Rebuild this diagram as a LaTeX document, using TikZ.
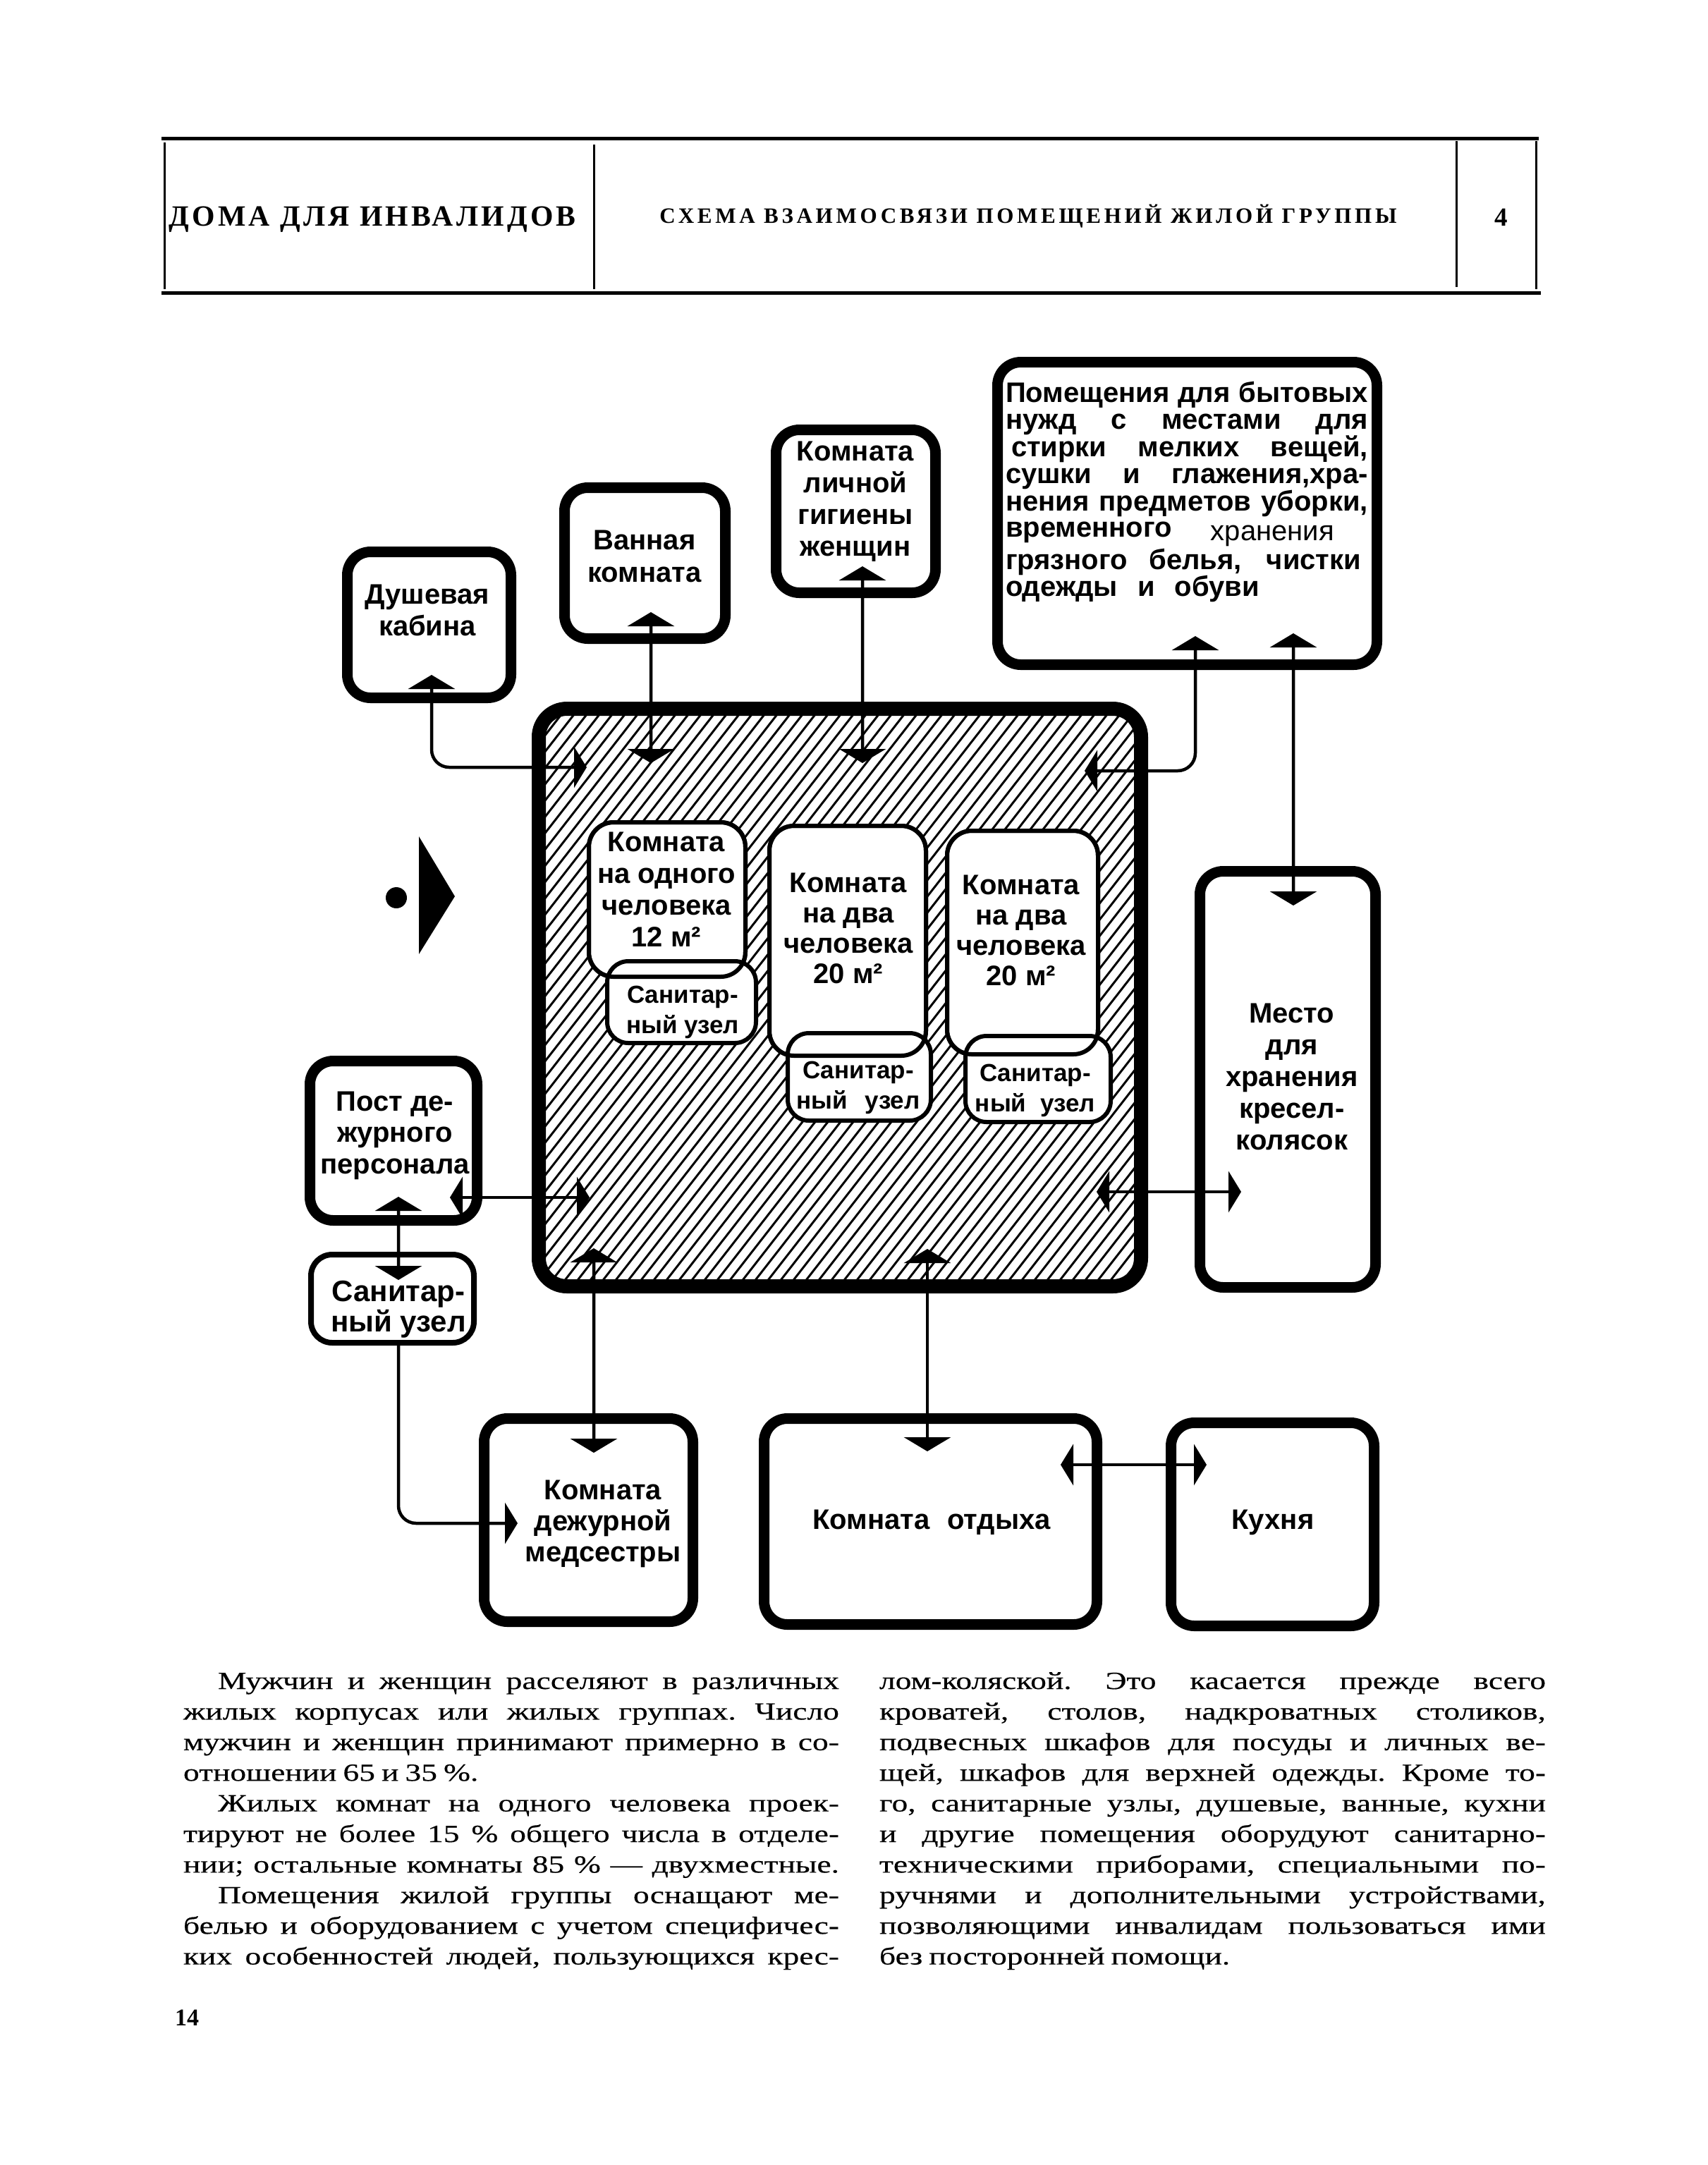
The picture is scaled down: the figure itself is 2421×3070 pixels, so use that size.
\documentclass[tikz,border=0pt]{standalone}
\usepackage{graphicx}
\usepackage{fontspec}
\setmainfont{Liberation Serif}
\newfontfamily\lbl{Liberation Sans}
\newfontfamily\bodyfont{Liberation Serif}[FakeStretch=1.3, WordSpace=0.8, FakeBold=0.4]
\newfontfamily\headfont{Liberation Serif}[LetterSpace=10]
\usetikzlibrary{arrows.meta,calc}

\newcommand\lt[3]{\parbox[t]{50mm}{\centering\lbl\bfseries\fontsize{#1}{#2}\selectfont #3}}
\newcommand\jl[2][51.4mm]{\makebox[#1][s]{#2}}
\newcommand\bl[2][93mm]{\makebox[#1][s]{#2}\par}

\tikzset{
  every node/.style={inner sep=0pt, outer sep=0pt},
  bigbox/.style={draw, line width=1.5mm, rounded corners=3.3mm},
  mainline/.style={line width=2mm, rounded corners=4mm},
  roombox/.style={draw, fill=white, line width=0.6mm, rounded corners=3.5mm},
  roomline/.style={line width=0.6mm, rounded corners=3.5mm},
  sanbox/.style={draw, fill=white, line width=0.6mm, rounded corners=3mm},
  conn/.style={line width=0.45mm},
  hatch/.style={line width=0.3mm},
  lab/.style={anchor=base},
  tipv/.tip={Triangle[width=6.6mm,length=2mm]},
  tiph/.tip={Triangle[width=5.8mm,length=1.8mm]},
}

\begin{document}
\begin{tikzpicture}[x=0.1mm, y=-0.1mm]
\useasboundingbox (0,0) rectangle (2421,3070);

% ---------- header ----------
\draw[line width=0.5mm] (229,196) -- (2182,196);
\draw[line width=0.5mm] (229,415) -- (2185,415);
\draw[line width=0.3mm] (233,202) -- (233,410);
\draw[line width=0.3mm] (842,205) -- (842,410);
\draw[line width=0.3mm] (2065,200) -- (2065,407);
\draw[line width=0.3mm] (2178,200) -- (2178,410);
\node[anchor=base] (h1) at (528,320) {\resizebox{57.7mm}{!}{\headfont\bfseries ДОМА ДЛЯ ИНВАЛИДОВ}};
\node[anchor=base] (h2) at (1458,316) {\resizebox{104.5mm}{!}{\headfont\bfseries\addfontfeature{LetterSpace=15}СХЕМА ВЗАИМОСВЯЗИ ПОМЕЩЕНИЙ ЖИЛОЙ ГРУППЫ}};
\node[anchor=base] (h3) at (2129,320) {\fontsize{3.7mm}{4mm}\selectfont\bfseries 4};

% ---------- margin marker ----------
\fill (562,1273) circle (1.5mm);
\fill (594,1186) -- (645,1271) -- (594,1353) -- cycle;

% ---------- main hatched box ----------
\node[minimum width=85.4mm, minimum height=81.9mm] (main) at (1191,1414.5) {};
\begin{scope}
  \clip[rounded corners=4mm] (main.south west) rectangle (main.north east);
  \foreach \x in {90,108,...,1640} \draw[hatch] (\x,1850) -- ++(670,-860);
\end{scope}
\draw[mainline] (main.south west) rectangle (main.north east);

% rooms inside
\node[roombox, minimum width=22.2mm, minimum height=21.9mm] (r1) at (946,1275.5) {};
\node[sanbox, minimum width=21.1mm, minimum height=11.6mm] (s1) at (966.5,1421) {};
\draw[roomline] (r1.south west) rectangle (r1.north east);
\node[roombox, minimum width=22.2mm, minimum height=32.6mm] (r2) at (1202,1334) {};
\node[sanbox, minimum width=20.3mm, minimum height=12.4mm] (s2) at (1218.5,1527) {};
\draw[roomline] (r2.south west) rectangle (r2.north east);
\node[roombox, minimum width=21.4mm, minimum height=31.7mm] (r3) at (1450,1336.5) {};
\node[sanbox, minimum width=20.6mm, minimum height=12.2mm] (s3) at (1472,1530) {};
\draw[roomline] (r3.south west) rectangle (r3.north east);

% ---------- outer boxes ----------
\node[bigbox, minimum width=23.2mm, minimum height=20.7mm] (dush) at (608.5,886) {};
\node[bigbox, minimum width=22.8mm, minimum height=21.4mm] (bath) at (914.5,798.5) {};
\node[bigbox, minimum width=22.6mm, minimum height=23.1mm] (hyg) at (1213.5,725) {};
\node[bigbox, minimum width=53.8mm, minimum height=42.9mm] (util) at (1683.5,728) {};
\node[bigbox, minimum width=24.9mm, minimum height=59.0mm] (place) at (1826,1530.5) {};
\node[bigbox, minimum width=23.7mm, minimum height=22.6mm] (post) at (558,1617.5) {};
\node[draw, line width=0.8mm, rounded corners=3mm, minimum width=23.1mm, minimum height=12.5mm] (s0) at (556.5,1841.5) {};
\node[bigbox, minimum width=29.6mm, minimum height=28.8mm] (nurse) at (834.5,2155.5) {};
\node[bigbox, minimum width=47.2mm, minimum height=29.2mm] (rest) at (1319.5,2157.5) {};
\node[bigbox, minimum width=28.8mm, minimum height=28.8mm] (kitch) at (1804.5,2161.5) {};

% ---------- labels ----------
\node[lab] (dushT) at (606,856) {\lt{4mm}{4.5mm}{Душевая\\кабина}};
\node[lab] (bathT) at (914,779) {\lt{4mm}{4.6mm}{Ванная\\комната}};
\node[lab] (hygT) at (1213,653) {\lt{4mm}{4.5mm}{Комната\\личной\\гигиены\\женщин}};
\node[lab] (r1T) at (945,1207) {\lt{4mm}{4.5mm}{Комната\\на одного\\человека\\12 м²}};
\node[lab] (s1T) at (968,1422) {\lt{3.5mm}{4.3mm}{Санитар-\\ный узел}};
\node[lab] (r2T) at (1203,1265) {\lt{4mm}{4.33mm}{Комната\\на два\\человека\\20 м²}};
\node[lab] (s2T) at (1217,1529) {\lt{3.5mm}{4.3mm}{Санитар-\\ный\hspace{2.5mm}узел}};
\node[lab] (r3T) at (1448,1268) {\lt{4mm}{4.3mm}{Комната\\на два\\человека\\20 м²}};
\node[lab] (s3T) at (1468,1533) {\lt{3.5mm}{4.3mm}{Санитар-\\ный\hspace{2mm}узел}};
\node[lab] (placeT) at (1832,1450) {\lt{4mm}{4.5mm}{Место\\для\\хранения\\кресел-\\колясок}};
\node[lab] (postT) at (560,1575) {\lt{4mm}{4.45mm}{Пост де-\\журного\\персонала}};
\node[lab] (s0T) at (565,1845) {\lt{4.2mm}{3.9mm}{Санитар-\\ный узел}};
\node[lab] (nurseT) at (855,2126) {\lt{4mm}{4.4mm}{Комната\\дежурной\\медсестры}};
\node[lab] (restT) at (1321,2168) {\lt{4mm}{4.4mm}{Комната\hspace{2.5mm}отдыха}};
\node[lab] (kitchT) at (1805,2168) {\lt{4mm}{4.4mm}{Кухня}};

\node[anchor=base west] (utilT) at (1426,570) {\parbox[t]{51.4mm}{\lbl\bfseries\fontsize{4mm}{3.86mm}\selectfont
\jl{Помещения для бытовых}\par
\jl{нужд с местами для}\par
\hspace*{0.8mm}\jl[50.6mm]{стирки мелких вещей,}\par
\jl{сушки и глажения,хра-}\par
\jl{нения предметов уборки,}\par
\raisebox{0.2mm}{временного}\hspace{5.5mm}\raisebox{-0.3mm}{\mdseries хранения}\par
\jl[50.4mm]{грязного белья, чистки}\par
\jl[36mm]{одежды и обуви}}};

% ---------- connectors ----------
\draw[conn, rounded corners=2.5mm, tipv-tiph] ($(dush)+(3.5,71)$) |- ($(main)+(-359,-326.5)$);
\draw[conn, tipv-tipv] ($(bath)+(8.5,69.5)$) -- ($(main)+(-268,-332.5)$);
\draw[conn, tipv-tipv] ($(hyg)+(9.5,78)$) -- ($(main)+(32,-332.5)$);
\draw[conn, rounded corners=2.5mm, tipv-tiph] ($(util)+(11.5,174)$) |- ($(main)+(347,-321.5)$);
\draw[conn, tipv-tipv] ($(util)+(150.5,170)$) -- ($(place)+(8,-246.5)$);
\draw[conn, tiph-tiph] ($(main)+(364,275.5)$) -- ($(place)+(-66,159.5)$);
\draw[conn, tiph-tiph] ($(post)+(80,80.5)$) -- ($(main)+(-355,283.5)$);
\draw[conn, tipv-tipv] ($(post)+(7,79.5)$) -- ($(s0)+(8.5,-26.5)$);
\draw[conn, rounded corners=2.5mm, -tiph] ($(s0.south)+(8.5,0)$) |- ($(nurse)+(-100.5,4.5)$);
\draw[conn, tipv-tipv] ($(main)+(-349,355.5)$) -- ($(nurse)+(7.5,-95.5)$);
\draw[conn, tipv-tipv] ($(main)+(124,356.5)$) -- ($(rest)+(-4.5,-99.5)$);
\draw[conn, tiph-tiph] ($(rest)+(184.5,-80.5)$) -- ($(kitch)+(-93.5,-84.5)$);

% ---------- body text ----------
\node[anchor=base west] (col1) at (260,2395) {\parbox[t]{93mm}{\bodyfont\frenchspacing\fontsize{3.5mm}{4.34mm}\selectfont
\hspace*{4.9mm}\bl[88.1mm]{Мужчин и женщин расселяют в различных}
\bl{жилых корпусах или жилых группах. Число}
\bl{мужчин и женщин принимают примерно в со-}
отношении 65 и 35 \%.\par
\hspace*{4.9mm}\bl[88.1mm]{Жилых комнат на одного человека проек-}
\bl{тируют не более 15 \% общего числа в отделе-}
\bl{нии; остальные комнаты 85 \% — двухместные.}
\hspace*{4.9mm}\bl[88.1mm]{Помещения жилой группы оснащают ме-}
\bl{белью и оборудованием с учетом специфичес-}
\bl{ких особенностей людей, пользующихся крес-}}};
\node[anchor=base west] (col2) at (1247,2395) {\parbox[t]{94.5mm}{\bodyfont\frenchspacing\fontsize{3.5mm}{4.34mm}\selectfont
\bl[94.5mm]{лом-коляской. Это касается прежде всего}
\bl[94.5mm]{кроватей, столов, надкроватных столиков,}
\bl[94.5mm]{подвесных шкафов для посуды и личных ве-}
\bl[94.5mm]{щей, шкафов для верхней одежды. Кроме то-}
\bl[94.5mm]{го, санитарные узлы, душевые, ванные, кухни}
\bl[94.5mm]{и другие помещения оборудуют санитарно-}
\bl[94.5mm]{техническими приборами, специальными по-}
\bl[94.5mm]{ручнями и дополнительными устройствами,}
\bl[94.5mm]{позволяющими инвалидам пользоваться ими}
без посторонней помощи.}};

\node[anchor=base west] (pg) at (248,2872) {\fontsize{3.4mm}{4mm}\selectfont\bfseries 14};
\end{tikzpicture}
\end{document}
